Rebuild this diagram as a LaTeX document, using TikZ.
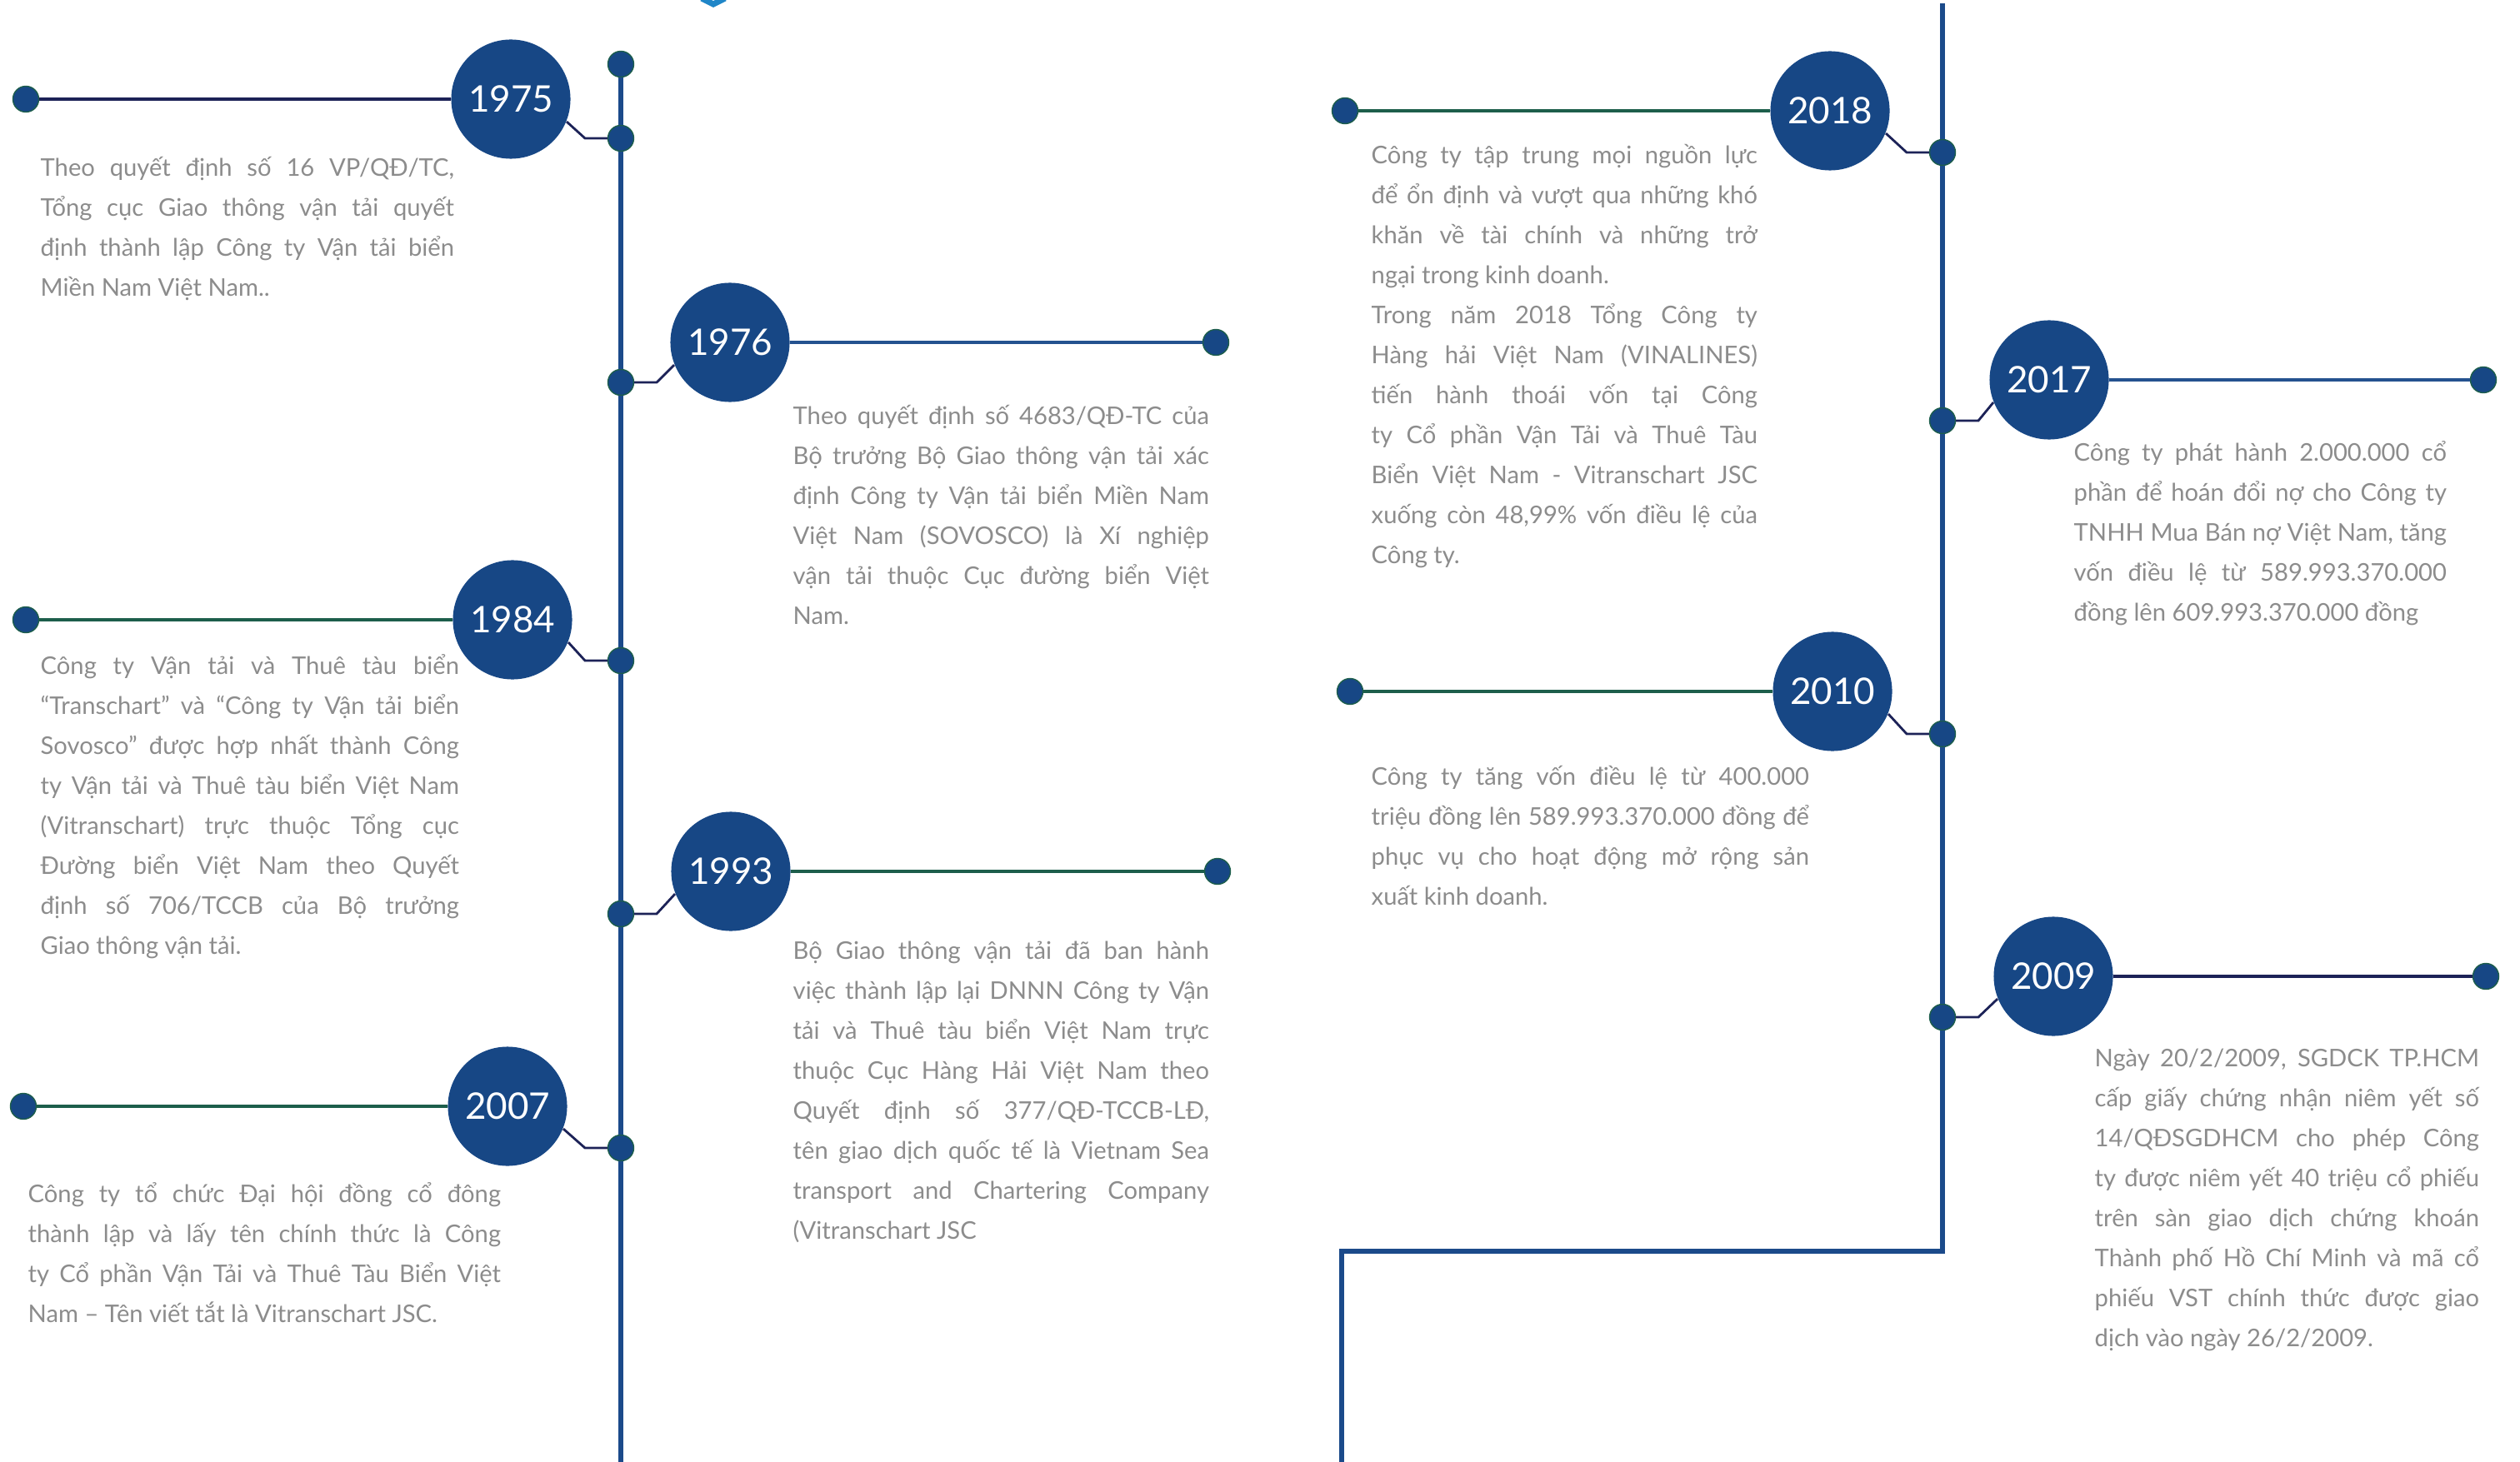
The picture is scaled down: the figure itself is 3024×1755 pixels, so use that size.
\documentclass[tikz,border=0pt]{standalone}
\usepackage{fontspec}
\setmainfont{Lato}
\definecolor{circblue}{HTML}{174785}
\definecolor{spineblue}{HTML}{1B4A8A}
\definecolor{navy}{HTML}{1C2257}
\definecolor{seagreen}{HTML}{1D5E4B}
\definecolor{lineblue}{HTML}{24528F}
\definecolor{textgrey}{HTML}{8C8C8C}
\definecolor{logoblue}{HTML}{1F86C8}
\newcommand\bodyfont{\fontsize{8.3pt}{13.66pt}\selectfont}
\newcommand\fullline[1]{\hbox to\linewidth{#1}}
\hyphenpenalty=10000
\exhyphenpenalty=10000
\setlength\parindent{0pt}
\tikzset{year/.style={circle,fill=circblue,minimum size=1.43cm,inner sep=0pt,text=white,font=\fontsize{12.5pt}{12.5pt}\selectfont}}
\tikzset{dot/.style={circle,fill=circblue,draw=seagreen,line width=0.4pt,minimum size=0.31cm,inner sep=0pt}}
\tikzset{blurb/.style={anchor=north west,inner sep=0pt,text width=#1,align=justify,text=textgrey,font=\bodyfont}}

\begin{document}
\begin{tikzpicture}
[x=0.01cm, y=-0.01cm,
 spine/.style={draw=spineblue,line width=1.6pt},
 hline/.style={line width=1pt},
 kink/.style={draw=navy,line width=0.8pt}]
\useasboundingbox (0,0) rectangle (3024,1755);

% left column
\node (top) at (745,77)[dot]{};
\node (c1975) at (613,119)[year]{1975};
\node (d1975) at (31,119)[dot]{};
\node (s1975) at (745,166)[dot]{};
\node (t1975) at (48,177)[blurb=4.96cm]{\strut Theo quyết định số 16 VP/QĐ/TC,\linebreak Tổng cục Giao thông vận tải quyết\linebreak định thành lập Công ty Vận tải biển\linebreak Miền Nam Việt Nam..};

\node (c1976) at (876,411)[year]{1976};
\node (d1976) at (1459,411)[dot]{};
\node (s1976) at (745,459)[dot]{};
\node (t1976) at (951,475)[blurb=4.99cm]{\strut Theo quyết định số 4683/QĐ-TC của\linebreak Bộ trưởng Bộ Giao thông vận tải xác\linebreak định Công ty Vận tải biển Miền Nam\linebreak Việt Nam (SOVOSCO) là Xí nghiệp\linebreak vận tải thuộc Cục đường biển Việt\linebreak Nam.};

\node (c1984) at (615,744)[year]{1984};
\node (d1984) at (31,744)[dot]{};
\node (s1984) at (745,793)[dot]{};
\node (t1984) at (48,775)[blurb=5.02cm]{\strut Công ty Vận tải và Thuê tàu biển\linebreak “Transchart” và “Công ty Vận tải biển\linebreak Sovosco” được hợp nhất thành Công\linebreak ty Vận tải và Thuê tàu biển Việt Nam\linebreak (Vitranschart) trực thuộc Tổng cục\linebreak Đường biển Việt Nam theo Quyết\linebreak định số 706/TCCB của Bộ trưởng\linebreak Giao thông vận tải.};

\node (c1993) at (877,1046)[year]{1993};
\node (d1993) at (1461,1046)[dot]{};
\node (s1993) at (745,1097)[dot]{};
\node (t1993) at (951,1117)[blurb=4.99cm]{\strut Bộ Giao thông vận tải đã ban hành\linebreak việc thành lập lại DNNN Công ty Vận\linebreak tải và Thuê tàu biển Việt Nam trực\linebreak thuộc Cục Hàng Hải Việt Nam theo\linebreak Quyết định số 377/QĐ-TCCB-LĐ,\linebreak tên giao dịch quốc tế là Vietnam Sea\linebreak transport and Chartering Company\linebreak (Vitranschart JSC};

\node (c2007) at (609,1328)[year]{2007};
\node (d2007) at (28,1328)[dot]{};
\node (s2007) at (745,1378)[dot]{};
\node (t2007) at (33,1409)[blurb=5.67cm]{\strut Công ty tổ chức Đại hội đồng cổ đông\linebreak thành lập và lấy tên chính thức là Công\linebreak ty Cổ phần Vận Tải và Thuê Tàu Biển Việt\linebreak Nam – Tên viết tắt là Vitranschart JSC.};
\coordinate (lbot) at (745,1760);

% right column
\coordinate (rtop) at (2331,4);
\node (c2018) at (2196,133)[year]{2018};
\node (d2018) at (1614,133)[dot]{};
\node (s2018) at (2331,183)[dot]{};
\node (t2018) at (1645,162)[blurb=4.63cm]{\strut Công ty tập trung mọi nguồn lực\linebreak để ổn định và vượt qua những khó\linebreak khăn về tài chính và những trở\linebreak ngại trong kinh doanh.\par Trong năm 2018 Tổng Công ty\linebreak Hàng hải Việt Nam (VINALINES)\linebreak tiến hành thoái vốn tại Công\linebreak ty Cổ phần Vận Tải và Thuê Tàu\linebreak Biển Việt Nam - Vitranschart JSC\linebreak xuống còn 48,99\% vốn điều lệ của\linebreak Công ty.};

\node (c2017) at (2459,456)[year]{2017};
\node (d2017) at (2980,456)[dot]{};
\node (s2017) at (2331,505)[dot]{};
\node (t2017) at (2488,519)[blurb=4.47cm]{\strut Công ty phát hành 2.000.000 cổ\linebreak phần để hoán đổi nợ cho Công ty\linebreak TNHH Mua Bán nợ Việt Nam, tăng\linebreak vốn điều lệ từ 589.993.370.000\linebreak đồng lên 609.993.370.000 đồng};

\node (c2010) at (2199,830)[year]{2010};
\node (d2010) at (1620,830)[dot]{};
\node (s2010) at (2331,881)[dot]{};
\node (t2010) at (1645,908)[blurb=5.25cm]{\strut Công ty tăng vốn điều lệ từ 400.000\linebreak \fullline{triệu đồng lên 589.993.370.000 đồng để}\linebreak phục vụ cho hoạt động mở rộng sản\linebreak xuất kinh doanh.};

\node (c2009) at (2464,1172)[year]{2009};
\node (d2009) at (2983,1172)[dot]{};
\node (s2009) at (2331,1221)[dot]{};
\node (t2009) at (2513,1246)[blurb=4.61cm]{\strut Ngày 20/2/2009, SGDCK TP.HCM\linebreak cấp giấy chứng nhận niêm yết số\linebreak 14/QĐSGDHCM cho phép Công\linebreak ty được niêm yết 40 triệu cổ phiếu\linebreak trên sàn giao dịch chứng khoán\linebreak Thành phố Hồ Chí Minh và mã cổ\linebreak phiếu VST chính thức được giao\linebreak dịch vào ngày 26/2/2009.};
\coordinate (rbend) at (2331,1502);
\coordinate (rbot) at (1610,1760);

% spines
\draw[spine] (top) -- (s1975) -- (s1976) -- (s1984) -- (s1993) -- (s2007) -- (lbot);
\draw[spine] (rtop) -- (s2018) -- (s2017) -- (s2010) -- (s2009) -- (rbend) -| (rbot);

% year lines
\draw[hline,navy] (d1975) -- (c1975);
\draw[hline,lineblue] (c1976) -- (d1976);
\draw[hline,seagreen] (d1984) -- (c1984);
\draw[hline,seagreen] (c1993) -- (d1993);
\draw[hline,seagreen] (d2007) -- (c2007);
\draw[hline,seagreen] (d2018) -- (c2018);
\draw[hline,lineblue] (c2017) -- (d2017);
\draw[hline,seagreen] (d2010) -- (c2010);
\draw[hline,navy] (c2009) -- (d2009);

% links to the spines
\draw[kink] (s1975) -- ++(-43,0) -- (c1975.-22);
\draw[kink] (s1976) -- ++(43,0) -- (c1976.202);
\draw[kink] (s1984) -- ++(-43,0) -- (c1984.-22);
\draw[kink] (s1993) -- ++(43,0) -- (c1993.202);
\draw[kink] (s2007) -- ++(-43,0) -- (c2007.-22);
\draw[kink] (s2018) -- ++(-43,0) -- (c2018.-22);
\draw[kink] (s2017) -- ++(43,0) -- (c2017.202);
\draw[kink] (s2010) -- ++(-43,0) -- (c2010.-22);
\draw[kink] (s2009) -- ++(43,0) -- (c2009.202);

% cut-off mark at the top
\draw[logoblue,line width=2pt] (842,-2) -- (856,5) -- (870,-2);
\end{tikzpicture}
\end{document}
